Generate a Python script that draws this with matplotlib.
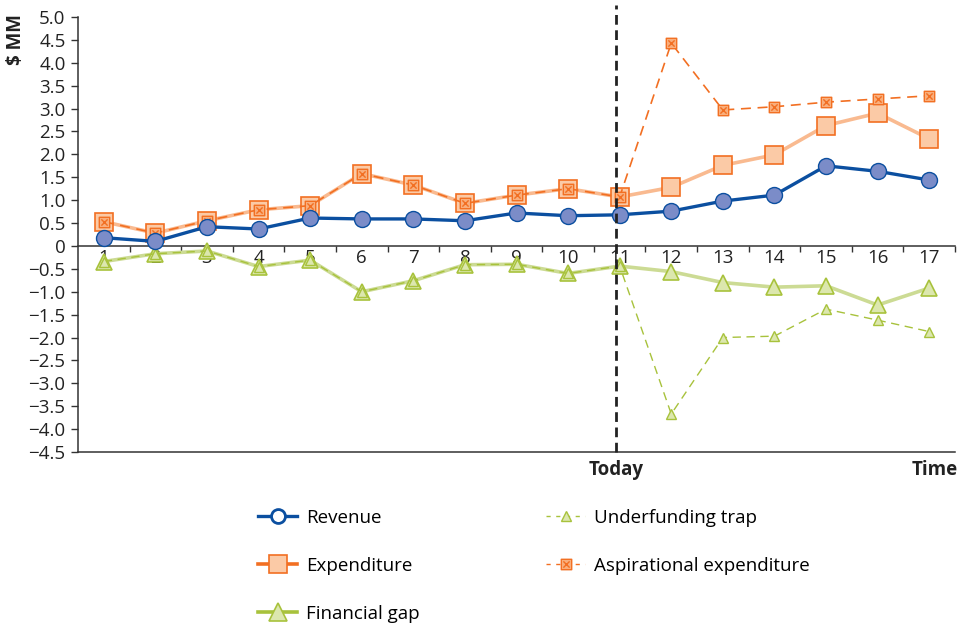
import matplotlib
matplotlib.use("Agg")
import matplotlib.pyplot as plt
from matplotlib.path import Path
from matplotlib.lines import Line2D
import numpy as np

periods = list(range(1, 18))
revenue = [0.18, 0.10, 0.42, 0.37, 0.61, 0.59, 0.59, 0.55, 0.72, 0.66, 0.68,
           0.76, 0.98, 1.11, 1.75, 1.63, 1.44]
expenditure = [0.53, 0.28, 0.55, 0.79, 0.88, 1.58, 1.33, 0.93, 1.11, 1.25, 1.07,
               1.28, 1.76, 1.99, 2.63, 2.90, 2.34]
aspirational = [0.53, 0.28, 0.55, 0.79, 0.88, 1.58, 1.33, 0.93, 1.11, 1.25, 1.07,
                4.43, 2.97, 3.04, 3.14, 3.21, 3.28]
financial_gap = [-0.34, -0.17, -0.11, -0.45, -0.31, -1.00, -0.76, -0.41, -0.40, -0.60, -0.44,
                 -0.56, -0.80, -0.90, -0.87, -1.29, -0.92]
underfunding = [-0.34, -0.17, -0.11, -0.45, -0.31, -1.00, -0.76, -0.41, -0.40, -0.60, -0.44,
                -3.67, -2.00, -1.97, -1.38, -1.62, -1.87]
yticks = [5.0, 4.5, 4.0, 3.5, 3.0, 2.5, 2.0, 1.5, 1.0, 0.5, 0, -0.5, -1.0, -1.5,
          -2.0, -2.5, -3.0, -3.5, -4.0, -4.5]
today_pos = 10.93

plt.rcParams['font.family'] = ['Open Sans', 'DejaVu Sans']
FS = 13.5

BLUE = '#0B4FA0'
BLUE_FILL = '#7B8CC8'
ORANGE = '#F26F22'
ORANGE_LIGHT = '#F9BA90'
ORANGE_FILL = '#FBCAA6'
ASP_FILL = '#F9AE7C'
GREEN_LINE = '#CCDB94'
GREEN_EDGE = '#A8C23C'
GREEN_FILL = '#DCE7AE'
AXCOL = '#333333'
TXT = '#222222'

# square with an x inside
s = 1.0
d = 0.6
boxx = Path([(-s, -s), (s, -s), (s, s), (-s, s), (-s, -s),
             (-d, -d), (d, d), (-d, d), (d, -d)],
            [Path.MOVETO, Path.LINETO, Path.LINETO, Path.LINETO, Path.CLOSEPOLY,
             Path.MOVETO, Path.LINETO, Path.MOVETO, Path.LINETO])

fig = plt.figure(figsize=(9.65, 6.27), dpi=100)
ax = fig.add_axes([78/965, 1-452/627, (955-78)/965, (452-17)/627])

x = np.array(periods)

# expenditure (solid, light)
ax.plot(x, expenditure, color=ORANGE_LIGHT, lw=2.6, zorder=3,
        marker='s', ms=12.5, mfc=ORANGE_FILL, mec=ORANGE, mew=1.2)
# aspirational (dashed)
ax.plot(x, aspirational, color=ORANGE, lw=1.2, ls=(0, (6, 4)), zorder=4,
        marker=boxx, ms=7.5, mfc=ASP_FILL, mec=ORANGE, mew=1.0)
# revenue
ax.plot(x, revenue, color=BLUE, lw=2.4, zorder=5,
        marker='o', ms=11.5, mfc=BLUE_FILL, mec=BLUE, mew=1.0)
# financial gap
ax.plot(x, financial_gap, color=GREEN_LINE, lw=2.6, zorder=3,
        marker='^', ms=12, mfc=GREEN_FILL, mec=GREEN_EDGE, mew=1.2)
# underfunding trap
ax.plot(x, underfunding, color=GREEN_EDGE, lw=1.0, ls=(0, (6, 4)), zorder=4,
        marker='^', ms=6.5, mfc=GREEN_FILL, mec=GREEN_EDGE, mew=1.0)

# today line
ax.plot([today_pos, today_pos], [-4.5, 5.27], color=TXT, lw=2.0,
        ls=(0, (3.5, 2)), clip_on=False, zorder=6)

ax.set_xlim(0.5, 17.5)
ax.set_ylim(-4.5, 5.0)

ax.spines['top'].set_visible(False)
ax.spines['right'].set_visible(False)
ax.spines['bottom'].set_position(('data', 0))
for sp in ['left', 'bottom']:
    ax.spines[sp].set_color(AXCOL)
    ax.spines[sp].set_linewidth(1.1)
ax.axhline(-4.5, color=AXCOL, lw=1.1, zorder=2, clip_on=False)

ax.set_yticks(yticks)
ax.set_yticklabels(['0' if v == 0 else f'{v:.1f}'.replace('-', '\u2212') for v in yticks],
                   fontsize=FS, color=TXT)
ax.tick_params(axis='y', direction='out', length=5, width=1.0, color=AXCOL, pad=4)

ax.set_xticks(x)
ax.set_xticklabels([str(p) for p in periods], fontsize=FS, color=TXT)
ax.set_xticks(np.arange(1.5, 17.6, 1.0), minor=True)
ax.tick_params(axis='x', which='major', length=0, pad=2)
ax.tick_params(axis='x', which='minor', direction='out', length=4, width=1.0, color=AXCOL)

today_px = 78 + (today_pos - 0.5) * (955 - 78) / 17
fig.text(today_px / 965, 1 - 470/627, 'Today',
         ha='center', va='center', fontsize=FS, fontweight='bold', color=TXT)
fig.text(958/965, 1 - 470/627, 'Time', ha='right', va='center', fontsize=FS,
         fontweight='bold', color=TXT)
fig.text(16/965, 1 - 40/627, '$ MM', ha='center', va='center', rotation=90,
         fontsize=FS, fontweight='bold', color=TXT)

h_rev = Line2D([], [], color=BLUE, lw=2.4, marker='o', ms=10, mfc='white', mec=BLUE, mew=2.0)
h_exp = Line2D([], [], color=ORANGE, lw=2.6, marker='s', ms=12.5, mfc=ORANGE_FILL, mec=ORANGE, mew=1.2)
h_gap = Line2D([], [], color=GREEN_EDGE, lw=2.6, marker='^', ms=13, mfc=GREEN_FILL, mec=GREEN_EDGE, mew=1.2)
h_und = Line2D([], [], color=GREEN_EDGE, lw=1.0, ls=(0, (3, 4)), marker='^', ms=6.5,
               mfc=GREEN_FILL, mec=GREEN_EDGE, mew=1.0)
h_asp = Line2D([], [], color=ORANGE, lw=1.0, ls=(0, (3, 4)), marker=boxx, ms=7.5,
               mfc=ASP_FILL, mec=ORANGE, mew=1.0)

leg_kw = dict(frameon=False, fontsize=FS, handlelength=2.1, handletextpad=0.45,
              labelspacing=1.6, borderpad=0, borderaxespad=0, loc='upper left')
l1 = fig.legend([h_rev, h_exp, h_gap], ['Revenue', 'Expenditure', 'Financial gap'],
                bbox_to_anchor=(258/965, 1 - 509/627), **leg_kw)
l2 = fig.legend([h_und, h_asp], ['Underfunding trap', 'Aspirational expenditure'],
                bbox_to_anchor=(546/965, 1 - 509/627), **leg_kw)

fig.savefig('out.png', dpi=100)
